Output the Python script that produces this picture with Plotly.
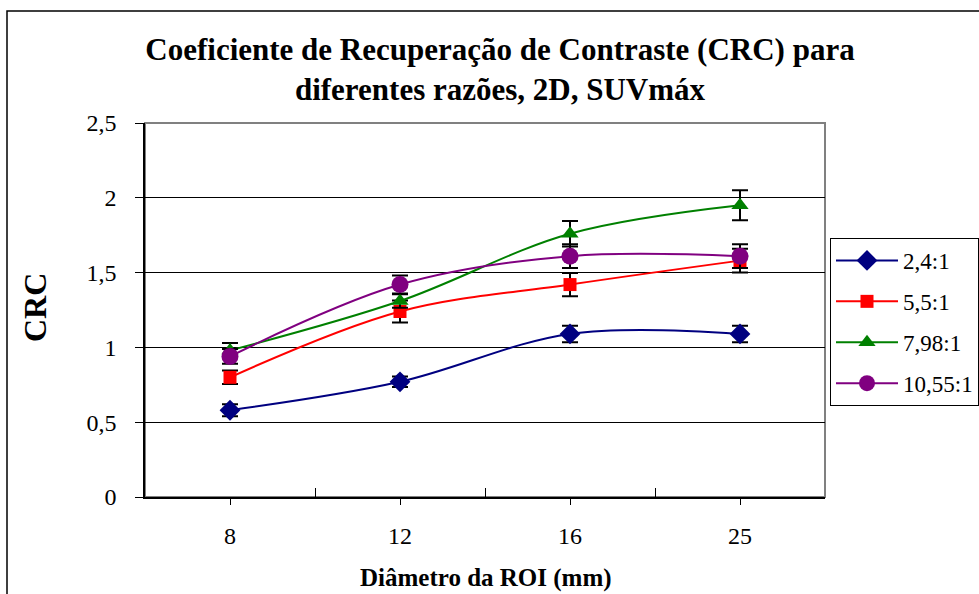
import plotly.graph_objects as go

# ---- data ----
categories = ["8", "12", "16", "25"]
series_names = ["2,4:1", "5,5:1", "7,98:1", "10,55:1"]
crc_24 = [0.58, 0.77, 1.09, 1.09]
err_24 = [0.04, 0.035, 0.055, 0.055]
crc_55 = [0.80, 1.24, 1.42, 1.58]
err_55 = [0.045, 0.073, 0.078, 0.08]
crc_798 = [0.98, 1.31, 1.76, 1.95]
err_798 = [0.05, 0.045, 0.085, 0.1]
crc_1055 = [0.94, 1.42, 1.61, 1.61]
err_1055 = [0.05, 0.06, 0.08, 0.08]
y_ticks = [0, 0.5, 1, 1.5, 2, 2.5]

W, H = 979, 594
L, R, T, B = 145, 825, 123, 497  # plot area in pixels

colors = ["#000080", "#FF0000", "#008000", "#800080"]
symbols = ["diamond", "square", "triangle-up", "circle"]
sizes = [16, 13, 15, 17]
values = [crc_24, crc_55, crc_798, crc_1055]
errors = [err_24, err_55, err_798, err_1055]

SERIF = "Liberation Serif"

fig = go.Figure()
for i in range(4):
    fig.add_trace(go.Scatter(
        x=categories, y=values[i], name=series_names[i],
        mode="lines+markers",
        line=dict(color=colors[i], width=2, shape="spline", smoothing=1),
        marker=dict(color=colors[i], symbol=symbols[i], size=sizes[i]),
        error_y=dict(type="data", array=errors[i], color="black", thickness=2, width=8),
        legendgroup=f"g{i}",
    ))

# invisible helper trace for boundary ticks on overlay axis
fig.add_trace(go.Scatter(x=categories, y=crc_24, xaxis="x2", mode="none",
                         showlegend=False, hoverinfo="skip"))

pw, ph = R - L, B - T


def px(x):
    return (x - L) / pw


def py(y):
    return (B - y) / ph


# plot-area border (gray) and outer chart border
fig.add_shape(type="rect", xref="paper", yref="paper", x0=0, x1=1, y0=0, y1=1,
              line=dict(color="#808080", width=2), layer="below")
fig.add_shape(type="rect", xref="paper", yref="paper", x0=px(7), x1=px(990),
              y0=py(605), y1=py(11), line=dict(color="black", width=1.5))

fig.update_layout(
    width=W, height=H,
    margin=dict(l=L, r=W - R, t=T, b=H - B, autoexpand=False),
    paper_bgcolor="white", plot_bgcolor="white",
    separators=",.",
    font=dict(family=SERIF, color="black"),
    title=dict(
        text="Coeficiente de Recuperação de Contraste (CRC) para<br>diferentes razões, 2D, SUVmáx",
        font=dict(family=SERIF, size=31, weight="bold", color="black"),
        x=500 / W, xanchor="center", xref="container",
        y=1 - 60 / H, yanchor="middle", yref="container",
    ),
    xaxis=dict(
        type="category", categoryarray=categories, range=[-0.5, 3.5],
        showgrid=False, zeroline=False,
        showline=True, linecolor="black", linewidth=1.5,
        ticks="outside", ticklen=6, tickcolor="black", tickwidth=1,
        tickfont=dict(family=SERIF, size=24), ticklabelstandoff=10,
        mirror=False,
    ),
    xaxis2=dict(
        type="category", categoryarray=categories, range=[-0.5, 3.5],
        overlaying="x", anchor="y", showgrid=False, zeroline=False,
        showline=False, ticks="inside", ticklen=9, tickcolor="black",
        tickson="boundaries", showticklabels=False, side="bottom",
    ),
    yaxis=dict(
        range=[0, 2.5], tickvals=y_ticks, showgrid=True, gridcolor="black",
        gridwidth=1, zeroline=False, showline=True, linecolor="black",
        linewidth=1.5, ticks="outside", ticklen=8, tickcolor="black",
        tickfont=dict(family=SERIF, size=24), ticklabelstandoff=14,
    ),
    legend=dict(
        x=px(830), xanchor="left", y=py(238), yanchor="top",
        bgcolor="white", bordercolor="black", borderwidth=1,
        font=dict(family=SERIF, size=23, color="black"),
        tracegroupgap=8, itemwidth=62, traceorder="grouped",
    ),
    annotations=[
        dict(text="CRC", xref="paper", yref="paper", x=px(35), y=py(308),
             xanchor="center", yanchor="middle", showarrow=False, textangle=-90,
             font=dict(family=SERIF, size=32, weight="bold")),
        dict(text="Diâmetro da ROI (mm)", xref="paper", yref="paper",
             x=px(486), y=py(578), xanchor="center", yanchor="middle",
             showarrow=False, font=dict(family=SERIF, size=25, weight="bold")),
    ],
)

fig.write_html("out.html", config={"displayModeBar": False},
               post_script="document.body.style.margin='0';")
